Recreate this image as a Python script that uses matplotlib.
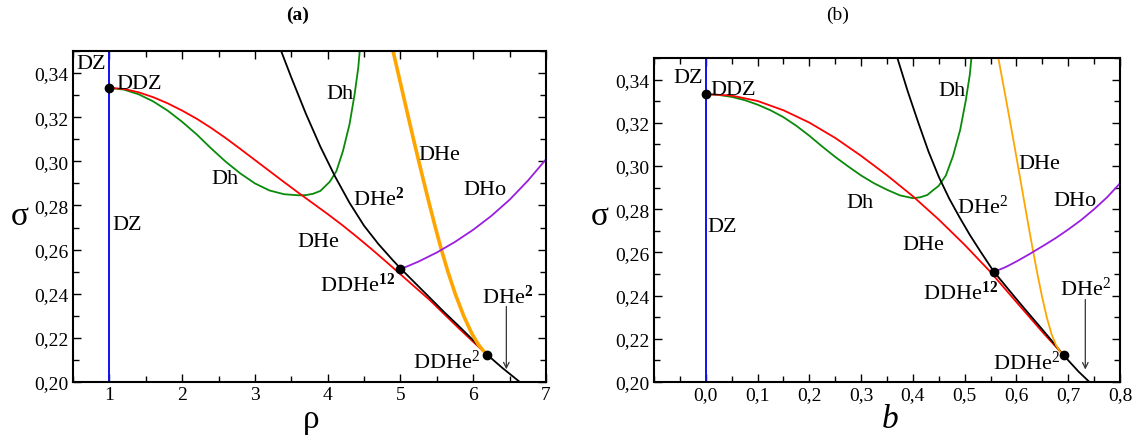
import matplotlib
matplotlib.use('Agg')
import matplotlib.pyplot as plt
from matplotlib.ticker import MultipleLocator, FuncFormatter

plt.rcParams['font.family'] = ['Liberation Serif', 'DejaVu Serif']
plt.rcParams['mathtext.fontset'] = 'custom'
plt.rcParams['mathtext.rm'] = 'Liberation Serif'
plt.rcParams['mathtext.bf'] = 'Liberation Serif:bold'
plt.rcParams['mathtext.it'] = 'Liberation Serif:italic'

# ---- panel (a): sigma vs rho ----
rho_red = [1.0, 1.2, 1.4, 1.6, 1.8, 2.0, 2.2, 2.4, 2.6, 2.8, 3.0, 3.2, 3.4, 3.6, 3.8, 4.0,
           4.2, 4.4, 4.6, 4.8, 5.0, 5.2, 5.4, 5.6, 5.8, 6.0, 6.19]
sig_red = [0.3333, 0.3328, 0.3313, 0.3291, 0.3263, 0.3230, 0.3193, 0.3151, 0.3105, 0.3056,
           0.3006, 0.2956, 0.2906, 0.2857, 0.2809, 0.2761, 0.2711, 0.2658, 0.2603, 0.2546,
           0.2488, 0.2430, 0.2372, 0.2308, 0.2244, 0.2182, 0.2124]

rho_green = [1.0, 1.2, 1.4, 1.6, 1.8, 2.0, 2.2, 2.4, 2.6, 2.8, 3.0, 3.2, 3.4, 3.6, 3.7, 3.8,
             3.9, 4.03, 4.12, 4.21, 4.30, 4.37, 4.42, 4.44]
sig_green = [0.3333, 0.3325, 0.3304, 0.3272, 0.3230, 0.3179, 0.3122, 0.3058, 0.2998, 0.2945,
             0.2900, 0.2868, 0.2851, 0.2846, 0.2847, 0.2853, 0.2866, 0.2908, 0.2956, 0.3047,
             0.3168, 0.3304, 0.3424, 0.3500]

rho_black = [3.36, 3.5, 3.7, 3.9, 4.1, 4.3, 4.5, 4.7, 4.9, 5.0, 5.2, 5.4, 5.6, 5.8, 6.0,
             6.19, 6.4, 6.64]
sig_black = [0.3500, 0.3380, 0.3216, 0.3066, 0.2932, 0.2812, 0.2708, 0.2624, 0.2550, 0.2515,
             0.2449, 0.2383, 0.2317, 0.2254, 0.2189, 0.2124, 0.2064, 0.2000]

sig_orange = [0.350, 0.340, 0.330, 0.320, 0.310, 0.300, 0.290, 0.280, 0.270, 0.260, 0.250,
              0.240, 0.230, 0.222, 0.217, 0.2145, 0.2124]
rho_orange = [4.898, 4.968, 5.038, 5.108, 5.179, 5.252, 5.326, 5.402, 5.480, 5.562, 5.652,
              5.752, 5.868, 5.980, 6.070, 6.130, 6.190]

rho_purple = [5.00, 5.25, 5.50, 5.75, 6.00, 6.25, 6.50, 6.75, 7.00]
sig_purple = [0.2511, 0.2546, 0.2587, 0.2635, 0.2690, 0.2753, 0.2826, 0.2912, 0.3009]

rho_pts = [1.0, 5.0, 6.19]
sig_pts_a = [0.3333, 0.2511, 0.2124]

# ---- panel (b): sigma vs b ----
b_red = [0.0, 0.05, 0.10, 0.15, 0.20, 0.25, 0.30, 0.35, 0.40, 0.45, 0.50, 0.55, 0.60, 0.65,
         0.691]
s_red = [0.3333, 0.3326, 0.3301, 0.3258, 0.3201, 0.3130, 0.3047, 0.2957, 0.2860, 0.2752,
         0.2635, 0.2509, 0.2370, 0.2232, 0.2124]

b_green = [0.0, 0.025, 0.05, 0.075, 0.10, 0.125, 0.15, 0.175, 0.20, 0.225, 0.25, 0.275, 0.30,
           0.325, 0.35, 0.375, 0.40, 0.414, 0.428, 0.4375, 0.4498, 0.4637, 0.4776, 0.4914,
           0.5022, 0.510, 0.513]
s_green = [0.3333, 0.3329, 0.3320, 0.3305, 0.3284, 0.3258, 0.3226, 0.3186, 0.3140, 0.3090,
           0.3042, 0.2998, 0.2956, 0.2920, 0.2890, 0.2864, 0.2851, 0.2855, 0.2866, 0.2885,
           0.2908, 0.2956, 0.3047, 0.3168, 0.3304, 0.3424, 0.3500]

b_black = [0.37, 0.39, 0.41, 0.43, 0.45, 0.47, 0.49, 0.51, 0.53, 0.556, 0.58, 0.60, 0.62,
           0.65, 0.67, 0.691, 0.72, 0.741]
s_black = [0.3500, 0.3346, 0.3204, 0.3068, 0.2950, 0.2850, 0.2763, 0.2681, 0.2606, 0.2512,
           0.2442, 0.2384, 0.2327, 0.2243, 0.2186, 0.2124, 0.2048, 0.2000]

s_orange = [0.350, 0.340, 0.330, 0.320, 0.310, 0.300, 0.290, 0.280, 0.270, 0.260, 0.250,
            0.240, 0.230, 0.222, 0.217, 0.214, 0.2124]
b_orange = [0.5650, 0.5728, 0.5805, 0.5881, 0.5956, 0.6030, 0.6103, 0.6176, 0.6250, 0.6326,
            0.6405, 0.6490, 0.6585, 0.6680, 0.6765, 0.6845, 0.6910]

b_purple = [0.556, 0.58, 0.60, 0.625, 0.65, 0.675, 0.70, 0.725, 0.75, 0.775, 0.80]
s_purple = [0.2509, 0.2533, 0.2558, 0.2592, 0.2628, 0.2665, 0.2706, 0.2750, 0.2800, 0.2855,
            0.2920]

b_pts = [0.0, 0.556, 0.691]
sig_pts_b = [0.3333, 0.2509, 0.2124]

fig = plt.figure(figsize=(11.37, 4.39), dpi=100)
W, H = 1137.0, 439.0
ax_a = fig.add_axes([73 / W, 56 / H, 473 / W, 331 / H])
ax_b = fig.add_axes([654 / W, 56 / H, 466 / W, 324 / H])

blue, red, green, orange, purple = '#1010ee', '#ff0000', '#0a8a0a', '#ffa500', '#9a1ee0'


def comma(fmt):
    return FuncFormatter(lambda v, p: (fmt % v).replace('.', ','))


def style(ax):
    ax.set_ylim(0.20, 0.35)
    ax.yaxis.set_major_locator(MultipleLocator(0.02))
    ax.yaxis.set_minor_locator(MultipleLocator(0.01))
    ax.yaxis.set_major_formatter(comma('%.2f'))
    ax.tick_params(which='both', direction='in', top=True, right=True, labelsize=14, width=1)
    ax.tick_params(which='major', length=6, pad=3)
    ax.tick_params(which='minor', length=4)
    for s in ax.spines.values():
        s.set_linewidth(1.5)


# (a)
ax = ax_a
ax.axvline(1.0, color=blue, lw=1.4)
ax.plot(rho_green, sig_green, color=green, lw=1.3)
ax.plot(rho_red, sig_red, color=red, lw=1.3)
ax.plot(rho_black, sig_black, color='k', lw=1.3)
ax.plot(rho_orange, sig_orange, color=orange, lw=2.6)
ax.plot(rho_purple, sig_purple, color=purple, lw=1.3)
ax.plot(rho_pts, sig_pts_a, 'o', color='k', ms=6, zorder=5)
ax.set_xlim(0.5, 7)
ax.xaxis.set_major_locator(MultipleLocator(1))
ax.xaxis.set_minor_locator(MultipleLocator(0.5))
ax.xaxis.set_major_formatter(comma('%d'))
style(ax)
ax.annotate('', xy=(6.455, 0.2045), xytext=(6.455, 0.2355),
            arrowprops=dict(arrowstyle='->', color='#333333', lw=0.9))
fs = 16
ax.text(0.55, 0.3425, 'DZ', fontsize=fs)
ax.text(1.10, 0.3334, 'DDZ', fontsize=fs)
ax.text(3.98, 0.3289, 'Dh', fontsize=fs)
ax.text(2.40, 0.2903, 'Dh', fontsize=fs)
ax.text(1.04, 0.2692, 'DZ', fontsize=fs)
ax.text(3.59, 0.2616, 'DHe', fontsize=fs)
ax.text(5.24, 0.3009, 'DHe', fontsize=fs)
ax.text(5.86, 0.2850, 'DHo', fontsize=fs)
ax.text(4.35, 0.2805, r'DHe$^{\mathbf{2}}$', fontsize=fs)
ax.text(3.89, 0.2412, r'DDHe$^{\mathbf{12}}$', fontsize=fs)
ax.text(5.17, 0.2065, r'DDHe$^{2}$', fontsize=fs)
ax.text(6.125, 0.2360, r'DHe$^{\mathbf{2}}$', fontsize=fs)

# (b)
ax = ax_b
ax.axvline(0.0, color=blue, lw=1.4)
ax.plot(b_green, s_green, color=green, lw=1.3)
ax.plot(b_red, s_red, color=red, lw=1.3)
ax.plot(b_black, s_black, color='k', lw=1.3)
ax.plot(b_orange, s_orange, color=orange, lw=1.3)
ax.plot(b_purple, s_purple, color=purple, lw=1.3)
ax.plot(b_pts, sig_pts_b, 'o', color='k', ms=6, zorder=5)
ax.set_xlim(-0.1, 0.8)
ax.set_xticks([0.0, 0.1, 0.2, 0.3, 0.4, 0.5, 0.6, 0.7, 0.8])
ax.xaxis.set_minor_locator(MultipleLocator(0.05))
ax.xaxis.set_major_formatter(comma('%.1f'))
style(ax)
ax.annotate('', xy=(0.733, 0.2045), xytext=(0.733, 0.2395),
            arrowprops=dict(arrowstyle='->', color='#333333', lw=0.9))
ax.text(-0.063, 0.3388, 'DZ', fontsize=fs)
ax.text(0.009, 0.3334, 'DDZ', fontsize=fs)
ax.text(0.449, 0.3327, 'Dh', fontsize=fs)
ax.text(0.272, 0.2812, 'Dh', fontsize=fs)
ax.text(0.004, 0.2701, 'DZ', fontsize=fs)
ax.text(0.380, 0.2617, 'DHe', fontsize=fs)
ax.text(0.604, 0.2989, 'DHe', fontsize=fs)
ax.text(0.672, 0.2820, 'DHo', fontsize=fs)
ax.text(0.485, 0.2782, r'DHe$^{2}$', fontsize=fs)
ax.text(0.419, 0.2387, r'DDHe$^{\mathbf{12}}$', fontsize=fs)
ax.text(0.555, 0.2059, r'DDHe$^{2}$', fontsize=fs)
ax.text(0.684, 0.2403, r'DHe$^{2}$', fontsize=fs)

# axis labels and titles
fig.text(20 / W, 1 - 217 / H, 'σ', fontsize=24, ha='center', va='center')
fig.text(600 / W, 1 - 217 / H, 'σ', fontsize=24, ha='center', va='center')
fig.text(311 / W, 1 - 420 / H, 'ρ', fontsize=24, ha='center', va='center')
fig.text(890 / W, 1 - 420 / H, 'b', fontsize=24, ha='center', va='center', fontstyle='italic')
fig.text(298 / W, 1 - 15 / H, '(a)', fontsize=14, ha='center', va='center', fontweight='bold')
fig.text(838 / W, 1 - 15 / H, '(b)', fontsize=14, ha='center', va='center')

fig.savefig('out.png', dpi=100)
